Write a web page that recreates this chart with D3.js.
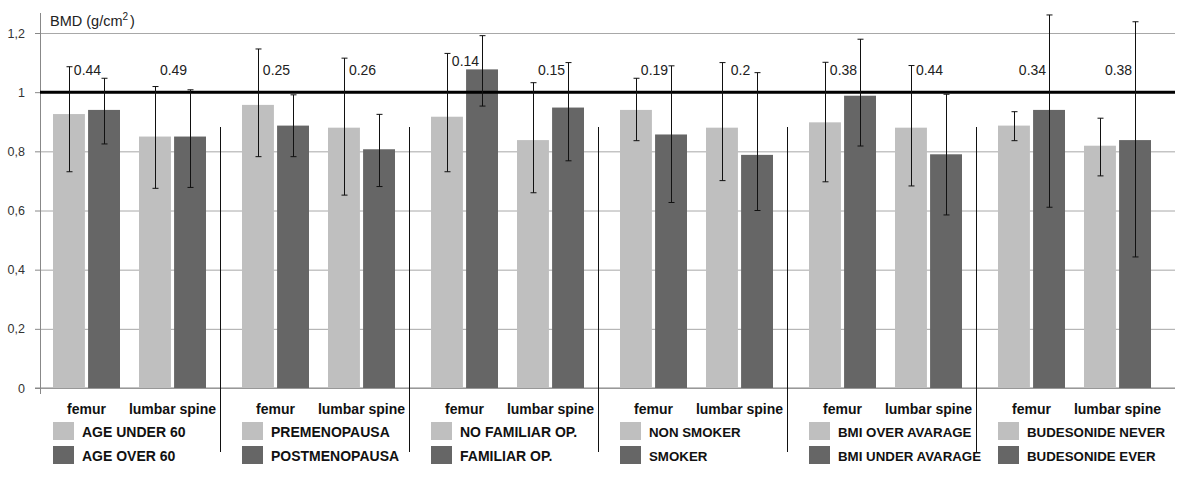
<!DOCTYPE html>
<meta charset="utf-8">
<style>
    body {
        margin: 0;
        background-color: #ffffff;
    }

    svg text {
        font-family: "Liberation Sans", Arial, sans-serif;
    }

    .grid line {
        stroke: #a8a8a8;
        stroke-width: 1px;
    }

    .grid path {
        display: none;
    }

    .yaxis text {
        font-size: 12.5px;
        fill: #333;
    }

    .yaxis line, .yaxis path {
        stroke: #888;
    }

    .site {
        font-size: 14px;
        font-weight: bold;
        fill: #111;
    }

    .legend text {
        font-weight: bold;
        fill: #111;
    }

    .pval {
        font-size: 14px;
        fill: #222;
    }
</style>
<svg width="1200" height="478"></svg>

<script src="https://d3js.org/d3.v7.min.js"></script>
<script>
    // one pair of legend labels per sub-chart
    const groups = ["age", "menopause", "familiar", "smoke", "bmi", "budesonide"];
    const lightLabels = ["AGE UNDER 60", "PREMENOPAUSA", "NO FAMILIAR OP.", "NON SMOKER", "BMI OVER AVARAGE", "BUDESONIDE NEVER"];
    const darkLabels = ["AGE OVER 60", "POSTMENOPAUSA", "FAMILIAR OP.", "SMOKER", "BMI UNDER AVARAGE", "BUDESONIDE EVER"];
    const sites = ["femur", "lumbar spine"];

    // values per group: femur, lumbar spine
    const lightValues = [0.926, 0.850, 0.957, 0.880, 0.917, 0.838, 0.940, 0.880, 0.898, 0.880, 0.887, 0.819];
    const darkValues = [0.940, 0.850, 0.887, 0.807, 1.077, 0.948, 0.857, 0.788, 0.988, 0.790, 0.940, 0.838];
    const lightLow = [0.731, 0.675, 0.782, 0.652, 0.731, 0.660, 0.836, 0.701, 0.697, 0.683, 0.836, 0.717];
    const lightHigh = [1.086, 1.019, 1.146, 1.115, 1.131, 1.032, 1.047, 1.100, 1.101, 1.090, 0.934, 0.912];
    const darkLow = [0.825, 0.678, 0.782, 0.681, 0.953, 0.768, 0.627, 0.600, 0.818, 0.585, 0.611, 0.443];
    const darkHigh = [1.047, 1.008, 0.991, 0.925, 1.191, 1.100, 1.089, 1.066, 1.179, 0.993, 1.261, 1.238];
    const pValues = ["0.44", "0.49", "0.25", "0.26", "0.14", "0.15", "0.19", "0.2", "0.38", "0.44", "0.34", "0.38"];
    const yTicks = [0, 0.2, 0.4, 0.6, 0.8, 1, 1.2];

    const legendFont = [14, 14, 14, 13.3, 13.3, 13.3];
    const colors = {light: "#bfbfbf", dark: "#666666"};

    let svg = d3.select("svg");
    let plotLeft = 40, plotRight = 1175, plotTop = 33, plotBottom = 388;

    let y = d3.scaleLinear().domain([0, 1.2]).range([plotBottom, plotTop]);
    let x0 = d3.scaleBand().domain(groups).range([43, 1177]);
    let x1 = d3.scaleBand().domain(sites).range([10, 163]).paddingInner(0.221);
    let x2 = d3.scaleBand().domain(["light", "dark"]).range([0, x1.bandwidth()]).paddingInner(0.09);

    let comma = d3.formatLocale({decimal: ",", thousands: ".", grouping: [3], currency: ["", ""]}).format("~g");

    // gridlines
    svg.append("g")
            .attr("class", "grid")
            .attr("transform", "translate(" + plotLeft + ",0)")
            .call(d3.axisLeft(y).tickValues(yTicks).tickSize(-(plotRight - plotLeft)).tickFormat(""));

    // y axis with small outside ticks
    let yAxis = svg.append("g")
            .attr("class", "yaxis")
            .attr("transform", "translate(" + plotLeft + ",0)")
            .call(d3.axisLeft(y).tickValues(yTicks).tickSize(5).tickSizeOuter(0).tickFormat(comma).tickPadding(10));
    yAxis.select(".domain").remove();

    svg.append("line")
            .attr("x1", plotLeft + 0.5).attr("x2", plotLeft + 0.5)
            .attr("y1", 13).attr("y2", plotBottom + 6)
            .attr("stroke", "#888");

    svg.append("line")
            .attr("x1", plotLeft - 5).attr("x2", plotRight)
            .attr("y1", y(0)).attr("y2", y(0))
            .attr("stroke", "#888");

    let title = svg.append("text")
            .attr("x", 50).attr("y", 26)
            .style("font-size", "14.5px")
            .style("fill", "#222");
    title.append("tspan").text("BMD (g/cm");
    title.append("tspan").attr("dy", -6).style("font-size", "10px").text("2");
    title.append("tspan").attr("dy", 6).attr("dx", 2).text(")");

    let rows = [];
    for (let i = 0; i < lightValues.length; i++) {
        let g = groups[Math.floor(i / 2)], s = sites[i % 2];
        rows.push({g: g, s: s, series: "light", v: lightValues[i], lo: lightLow[i], hi: lightHigh[i]});
        rows.push({g: g, s: s, series: "dark", v: darkValues[i], lo: darkLow[i], hi: darkHigh[i]});
    }

    let barX = (d) => x0(d.g) + x1(d.s) + x2(d.series);

    svg.append("g")
            .selectAll("rect")
            .data(rows)
            .enter().append("rect")
            .attr("x", barX)
            .attr("y", (d) => y(d.v))
            .attr("width", x2.bandwidth())
            .attr("height", (d) => y(0) - y(d.v))
            .attr("fill", (d) => colors[d.series]);

    // reference line at 1
    svg.append("line")
            .attr("x1", plotLeft).attr("x2", plotRight)
            .attr("y1", y(1)).attr("y2", y(1))
            .attr("stroke", "#000")
            .attr("stroke-width", 3);

    // error bars
    let err = svg.append("g")
            .selectAll("g")
            .data(rows)
            .enter().append("g")
            .attr("stroke", "#111")
            .attr("stroke-width", 1);
    let cx = (d) => Math.round(barX(d) + x2.bandwidth() / 2) + 0.5;
    err.append("line")
            .attr("x1", cx).attr("x2", cx)
            .attr("y1", (d) => y(d.lo)).attr("y2", (d) => y(d.hi));
    err.append("line")
            .attr("x1", (d) => cx(d) - 3).attr("x2", (d) => cx(d) + 3)
            .attr("y1", (d) => y(d.hi)).attr("y2", (d) => y(d.hi));
    err.append("line")
            .attr("x1", (d) => cx(d) - 3).attr("x2", (d) => cx(d) + 3)
            .attr("y1", (d) => y(d.lo)).attr("y2", (d) => y(d.lo));

    // p-values above each site
    let cats = [];
    for (let i = 0; i < pValues.length; i++) {
        cats.push({g: groups[Math.floor(i / 2)], s: sites[i % 2], p: pValues[i],
            peak: Math.max(lightValues[i], darkValues[i])});
    }
    let catX = (d) => x0(d.g) + x1(d.s) + x1.bandwidth() / 2;

    svg.append("g")
            .selectAll("text")
            .data(cats)
            .enter().append("text")
            .attr("class", "pval")
            .attr("x", (d) => catX(d) + 1)
            .attr("y", (d) => Math.min(y(1.057), y(d.peak) - 3))
            .attr("text-anchor", "middle")
            .text((d) => d.p);

    svg.append("g")
            .selectAll("text")
            .data(cats)
            .enter().append("text")
            .attr("class", "site")
            .attr("x", catX)
            .attr("y", 414)
            .attr("text-anchor", "middle")
            .text((d) => d.s);

    // separators between sub-charts
    let seps = groups.slice(1).map((g, i) =>
            (x0(groups[i]) + x1.range()[1] + x0(g) + x1.range()[0]) / 2 - 4);
    svg.append("g")
            .selectAll("line")
            .data(seps)
            .enter().append("line")
            .attr("x1", (d) => Math.round(d) + 0.5).attr("x2", (d) => Math.round(d) + 0.5)
            .attr("y1", 127).attr("y2", 452)
            .attr("stroke", "#111");

    // legends
    let legend = svg.append("g")
            .attr("class", "legend")
            .selectAll("g")
            .data(groups)
            .enter().append("g")
            .attr("transform", (d) => "translate(" + (x0(d) + 10) + ",0)");

    legend.append("rect")
            .attr("x", 0).attr("y", 422)
            .attr("width", 21).attr("height", 18)
            .attr("fill", colors.light);
    legend.append("rect")
            .attr("x", 0).attr("y", 446)
            .attr("width", 21).attr("height", 18)
            .attr("fill", colors.dark);
    legend.append("text")
            .attr("x", 29).attr("y", 437)
            .style("font-size", (d, i) => legendFont[i] + "px")
            .text((d, i) => lightLabels[i]);
    legend.append("text")
            .attr("x", 29).attr("y", 461)
            .style("font-size", (d, i) => legendFont[i] + "px")
            .text((d, i) => darkLabels[i]);
</script>
</html>
